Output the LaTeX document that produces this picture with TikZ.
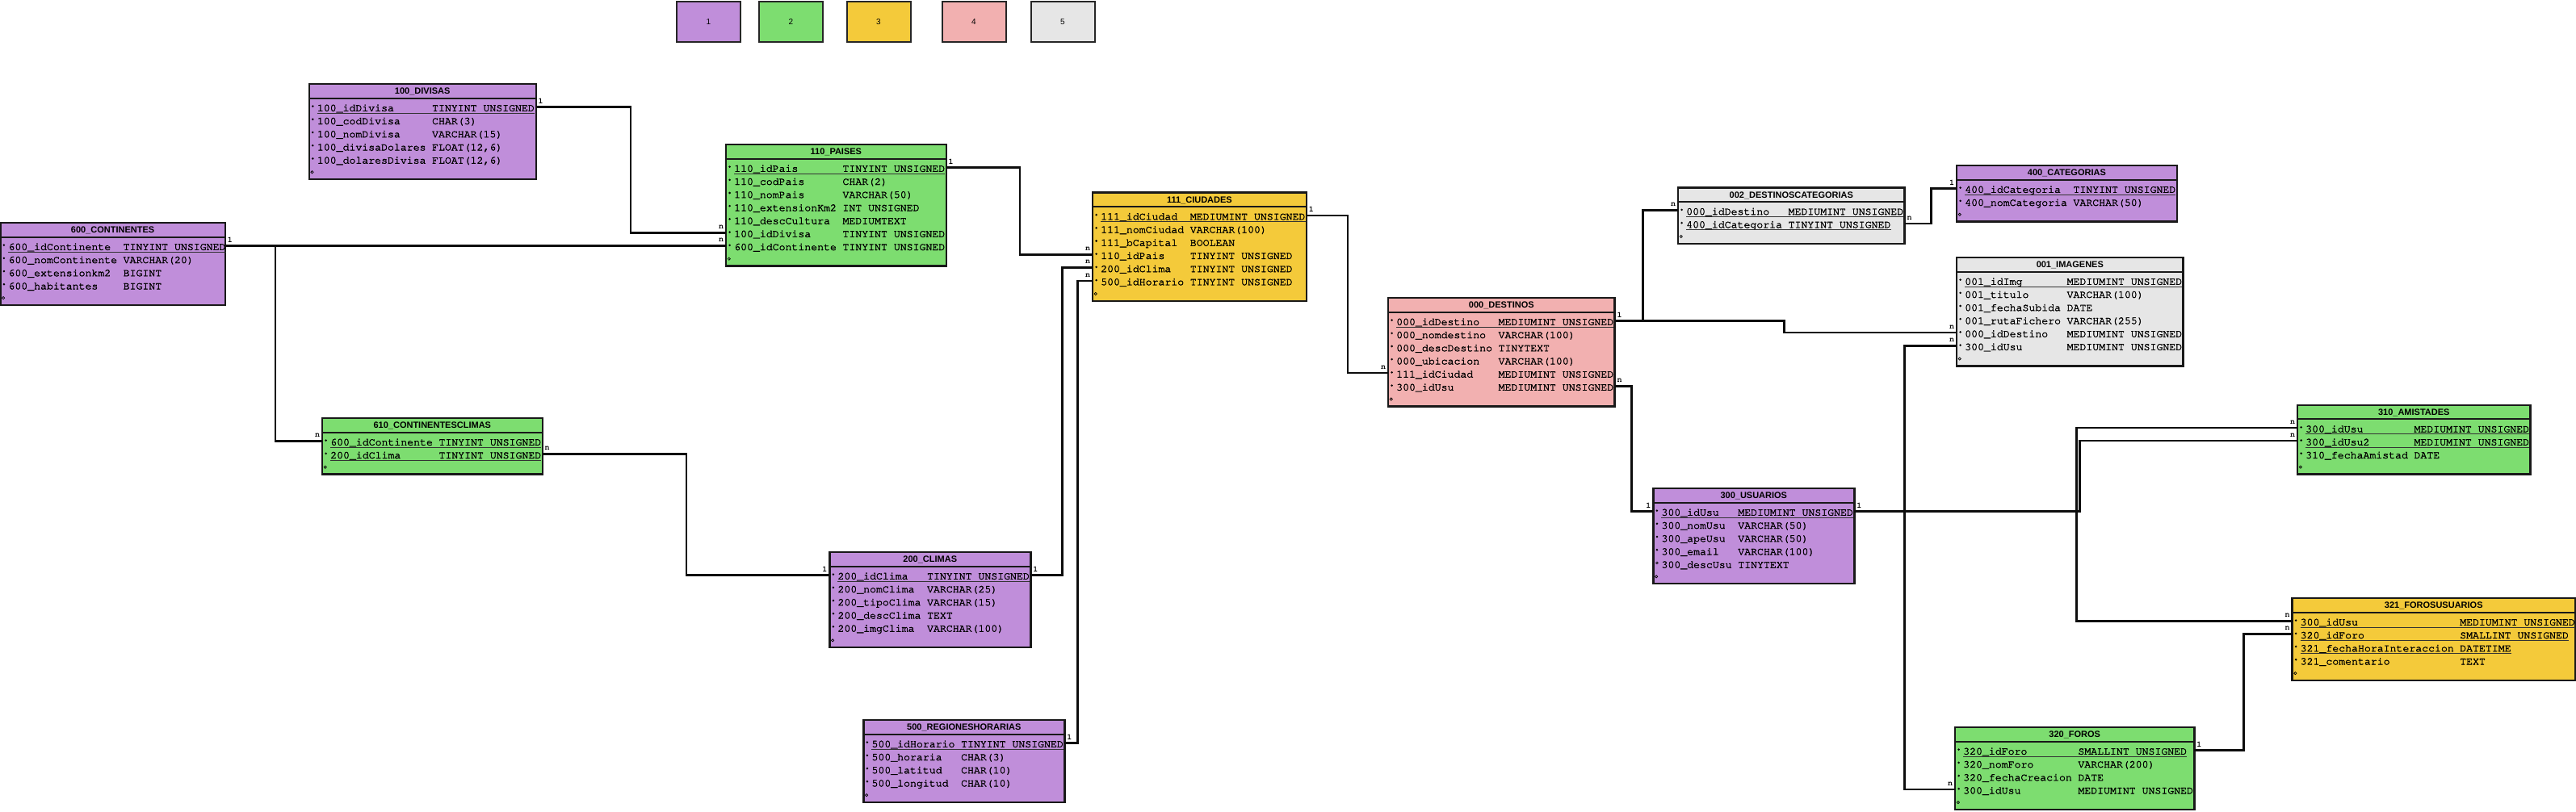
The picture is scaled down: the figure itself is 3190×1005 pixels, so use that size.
\documentclass[tikz,border=0pt]{standalone}
\usepackage[T1]{fontenc}
\usepackage{fontspec}
\setmainfont{Liberation Sans}
\definecolor{cpur}{RGB}{192,142,218}
\definecolor{cgrn}{RGB}{125,221,112}
\definecolor{cyel}{RGB}{244,202,58}
\definecolor{cpnk}{RGB}{242,176,176}
\definecolor{cgry}{RGB}{230,230,230}
\newcommand\cour[1]{\fontencoding{T1}\fontfamily{pcr}\fontseries{m}\fontshape{n}\fontsize{#1}{#1}\selectfont}
\newcommand\courb[1]{\fontencoding{T1}\fontfamily{pcr}\fontseries{b}\fontshape{n}\fontsize{#1}{#1}\selectfont}
\newcommand\heavy{\special{pdf:literal direct 2 Tr 0.32 w}}
\tikzset{
  tbox/.style={draw=black!90, line width=2.4pt, inner sep=0pt, outer sep=0pt},
  sepl/.style={draw=black!90, line width=2pt},
  ttl/.style={font=\fontsize{11}{12}\selectfont\bfseries, inner sep=0pt},
  ftxt/.style={font=\cour{13.2}, inner sep=0pt, text=black},
  uline/.style={draw=black!80, line width=0.9pt},
  conn/.style={draw=black!95, line width=2.4pt},
  lbl/.style={font=\courb{10}, inner sep=0pt},
  legbox/.style={draw=black!85, line width=2pt, minimum width=79pt, minimum height=50pt, inner sep=0pt, font=\fontsize{10}{12}\selectfont}
}
% id, x, y, width, rows (with o row), colour, title, type column (chars)
\newcommand\mktable[8]{%
  \gdef\tx{#2}\gdef\ty{#3}\gdef\tw{#4}\gdef\tcol{#8}\gdef\tid{#1}%
  \node[tbox, fill=#6, minimum width=#4, minimum height={21+16.2*#5}, anchor=north west] (#1) at (#2,#3) {};
  \draw[sepl] (#2,#3+17.7) -- (#2+#4,#3+17.7);
  \node[ttl] (#1-title) at (#2+#4/2,#3+9.6) {#7};
  \draw[line width=0.7pt] (#2+3.8,#3+12.1+16.2*#5) circle (1.6);
}
\newcommand\fk[3]{%
  \node[ftxt, anchor=base west] (\tid-n#1) at (\tx+10,\ty+17.6+16.2*#1) {\heavy #2};
  \node[ftxt, anchor=base west] (\tid-t#1) at (\tx+10+7.9*\tcol,\ty+17.6+16.2*#1) {\heavy #3};
  \coordinate (\tid-w#1) at (\tx,\ty+12.1+16.2*#1);
  \coordinate (\tid-e#1) at (\tx+\tw,\ty+12.1+16.2*#1);
  \fill (\tx+4.6,\ty+11.4+16.2*#1) circle (1.4);
}
\newcommand\nk[3]{%
  \node[ftxt, anchor=base west] (\tid-n#1) at (\tx+10,\ty+17.6+16.2*#1) {\heavy #2};
  \node[ftxt, anchor=base west] (\tid-t#1) at (\tx+10+7.9*\tcol,\ty+17.6+16.2*#1) {\heavy #3};
  \coordinate (\tid-w#1) at (\tx,\ty+12.1+16.2*#1);
  \coordinate (\tid-e#1) at (\tx+\tw,\ty+12.1+16.2*#1);
  \draw[line width=0.6pt] (\tx+4.6,\ty+11.4+16.2*#1) circle (1.4);
}
\newcommand\pk[3]{%
  \fk{#1}{#2}{#3}%
  \draw[uline] ([yshift=-2.4pt]\tid-n#1.base west) -- ([yshift=-2.4pt]\tid-t#1.base east);
}
\newcommand\lR[2]{\node[lbl, xshift=6pt, yshift=7pt] at (#1) {#2};}
\newcommand\lL[2]{\node[lbl, xshift=-6pt, yshift=7pt] at (#1) {#2};}
\begin{document}
\catcode`\_=12
\begin{tikzpicture}[x=1pt,y=-1pt]
\useasboundingbox[fill=white] (0,0) rectangle (3190,1005);

% legend
\node[legbox, fill=cpur] (leg1) at (877.5,27) {1};
\node[legbox, fill=cgrn] (leg2) at (979.5,27) {2};
\node[legbox, fill=cyel] (leg3) at (1088,27) {3};
\node[legbox, fill=cpnk] (leg4) at (1206,27) {4};
\node[legbox, fill=cgry] (leg5) at (1316,27) {5};

\mktable{t100}{382.7}{104}{281}{6}{cpur}{100_DIVISAS}{18}
\pk1{100_idDivisa}{TINYINT UNSIGNED}
\fk2{100_codDivisa}{CHAR(3)}
\fk3{100_nomDivisa}{VARCHAR(15)}
\fk4{100_divisaDolares}{FLOAT(12,6)}
\fk5{100_dolaresDivisa}{FLOAT(12,6)}

\mktable{t600}{0.3}{276}{278.5}{5}{cpur}{600_CONTINENTES}{18}
\pk1{600_idContinente}{TINYINT UNSIGNED}
\fk2{600_nomContinente}{VARCHAR(20)}
\fk3{600_extensionkm2}{BIGINT}
\fk4{600_habitantes}{BIGINT}

\mktable{t110}{899}{179}{272.7}{8}{cgrn}{110_PAISES}{17}
\pk1{110_idPais}{TINYINT UNSIGNED}
\fk2{110_codPais}{CHAR(2)}
\fk3{110_nomPais}{VARCHAR(50)}
\fk4{110_extensionKm2}{INT UNSIGNED}
\fk5{110_descCultura}{MEDIUMTEXT}
\fk6{100_idDivisa}{TINYINT UNSIGNED}
\fk7{600_idContinente}{TINYINT UNSIGNED}

\mktable{t111}{1353}{238.5}{264.8}{7}{cyel}{111_CIUDADES}{14}
\pk1{111_idCiudad}{MEDIUMINT UNSIGNED}
\fk2{111_nomCiudad}{VARCHAR(100)}
\fk3{111_bCapital}{BOOLEAN}
\fk4{110_idPais}{TINYINT UNSIGNED}
\fk5{200_idClima}{TINYINT UNSIGNED}
\fk6{500_idHorario}{TINYINT UNSIGNED}

\mktable{t610}{399}{518}{272.7}{3}{cgrn}{610_CONTINENTESCLIMAS}{17}
\pk1{600_idContinente}{TINYINT UNSIGNED}
\pk2{200_idClima}{TINYINT UNSIGNED}

\mktable{t200}{1027.3}{684}{249}{6}{cpur}{200_CLIMAS}{14}
\pk1{200_idClima}{TINYINT UNSIGNED}
\fk2{200_nomClima}{VARCHAR(25)}
\fk3{200_tipoClima}{VARCHAR(15)}
\fk4{200_descClima}{TEXT}
\fk5{200_imgClima}{VARCHAR(100)}

\mktable{t500}{1069.3}{892}{249}{5}{cpur}{500_REGIONESHORARIAS}{14}
\pk1{500_idHorario}{TINYINT UNSIGNED}
\fk2{500_horaria}{CHAR(3)}
\fk3{500_latitud}{CHAR(10)}
\fk4{500_longitud}{CHAR(10)}

\mktable{t000}{1719}{369}{280.6}{7}{cpnk}{000_DESTINOS}{16}
\pk1{000_idDestino}{MEDIUMINT UNSIGNED}
\fk2{000_nomdestino}{VARCHAR(100)}
\fk3{000_descDestino}{TINYTEXT}
\fk4{000_ubicacion}{VARCHAR(100)}
\fk5{111_idCiudad}{MEDIUMINT UNSIGNED}
\fk6{300_idUsu}{MEDIUMINT UNSIGNED}

\mktable{t002}{2078}{232.3}{280.6}{3}{cgry}{002_DESTINOSCATEGORIAS}{16}
\pk1{000_idDestino}{MEDIUMINT UNSIGNED}
\pk2{400_idCategoria}{TINYINT UNSIGNED}

\mktable{t400}{2423}{205}{272.7}{3}{cpur}{400_CATEGORIAS}{17}
\pk1{400_idCategoria}{TINYINT UNSIGNED}
\fk2{400_nomCategoria}{VARCHAR(50)}

\mktable{t001}{2423}{319}{280.6}{7}{cgry}{001_IMAGENES}{16}
\pk1{001_idImg}{MEDIUMINT UNSIGNED}
\fk2{001_titulo}{VARCHAR(100)}
\fk3{001_fechaSubida}{DATE}
\fk4{001_rutaFichero}{VARCHAR(255)}
\fk5{000_idDestino}{MEDIUMINT UNSIGNED}
\fk6{300_idUsu}{MEDIUMINT UNSIGNED}

\mktable{t300}{2047.3}{605}{249}{6}{cpur}{300_USUARIOS}{12}
\pk1{300_idUsu}{MEDIUMINT UNSIGNED}
\fk2{300_nomUsu}{VARCHAR(50)}
\fk3{300_apeUsu}{VARCHAR(50)}
\fk4{300_email}{VARCHAR(100)}
\nk5{300_descUsu}{TINYTEXT}

\mktable{t310}{2845}{501.7}{288.5}{4}{cgrn}{310_AMISTADES}{17}
\pk1{300_idUsu}{MEDIUMINT UNSIGNED}
\pk2{300_idUsu2}{MEDIUMINT UNSIGNED}
\fk3{310_fechaAmistad}{DATE}

\mktable{t321}{2838.5}{741}{350.5}{5}{cyel}{321_FOROSUSUARIOS}{25}
\pk1{300_idUsu}{MEDIUMINT UNSIGNED}
\pk2{320_idForo}{SMALLINT UNSIGNED}
\pk3{321_fechaHoraInteraccion}{DATETIME}
\fk4{321_comentario}{TEXT}

\mktable{t320}{2421}{901}{296.4}{5}{cgrn}{320_FOROS}{18}
\pk1{320_idForo}{SMALLINT UNSIGNED}
\fk2{320_nomForo}{VARCHAR(200)}
\fk3{320_fechaCreacion}{DATE}
\fk4{300_idUsu}{MEDIUMINT UNSIGNED}

% connectors
\draw[conn] (t100-e1) -- ++(117,0) |- (t110-w6);
\lR{t100-e1}{1}\lL{t110-w6}{n}
\draw[conn] (t600-e1) -- ++(62,0) |- (t110-w7);
\lR{t600-e1}{1}\lL{t110-w7}{n}
\draw[conn] (t600-e1) -- ++(62,0) |- (t610-w1);
\lL{t610-w1}{n}
\draw[conn] (t610-e2) -- ++(178,0) |- (t200-w1);
\lR{t610-e2}{n}\lL{t200-w1}{1}
\draw[conn] (t200-e1) -- ++(39,0) |- (t111-w5);
\lR{t200-e1}{1}\lL{t111-w5}{n}
\draw[conn] (t500-e1) -- ++(16,0) |- (t111-w6);
\lR{t500-e1}{1}\lL{t111-w6}{n}
\draw[conn] (t110-e1) -- ++(91,0) |- (t111-w4);
\lR{t110-e1}{1}\lL{t111-w4}{n}
\draw[conn] (t111-e1) -- ++(51,0) |- (t000-w5);
\lR{t111-e1}{1}\lL{t000-w5}{n}
\draw[conn] (t000-e1) -- ++(35,0) |- (t002-w1);
\draw[conn] (t000-e1) -- ++(210,0) |- (t001-w5);
\lR{t000-e1}{1}\lL{t002-w1}{n}\lL{t001-w5}{n}
\draw[conn] (t000-e6) -- ++(21,0) |- (t300-w1);
\lR{t000-e6}{n}\lL{t300-w1}{1}
\draw[conn] (t002-e2) -- ++(33,0) |- (t400-w1);
\lR{t002-e2}{n}\lL{t400-w1}{1}
\draw[conn] (t300-e1) -- ++(62,0) |- (t001-w6);
\draw[conn] (t300-e1) -- ++(62,0) |- (t320-w4);
\draw[conn] (t300-e1) -- ++(275,0) |- (t310-w1);
\draw[conn] (t300-e1) -- ++(279,0) |- (t310-w2);
\draw[conn] (t300-e1) -- ++(275,0) |- (t321-w1);
\lR{t300-e1}{1}\lL{t001-w6}{n}\lL{t320-w4}{n}\lL{t310-w1}{n}\lL{t310-w2}{n}\lL{t321-w1}{n}
\draw[conn] (t320-e1) -- ++(61,0) |- (t321-w2);
\lR{t320-e1}{1}\lL{t321-w2}{n}
\end{tikzpicture}
\end{document}
